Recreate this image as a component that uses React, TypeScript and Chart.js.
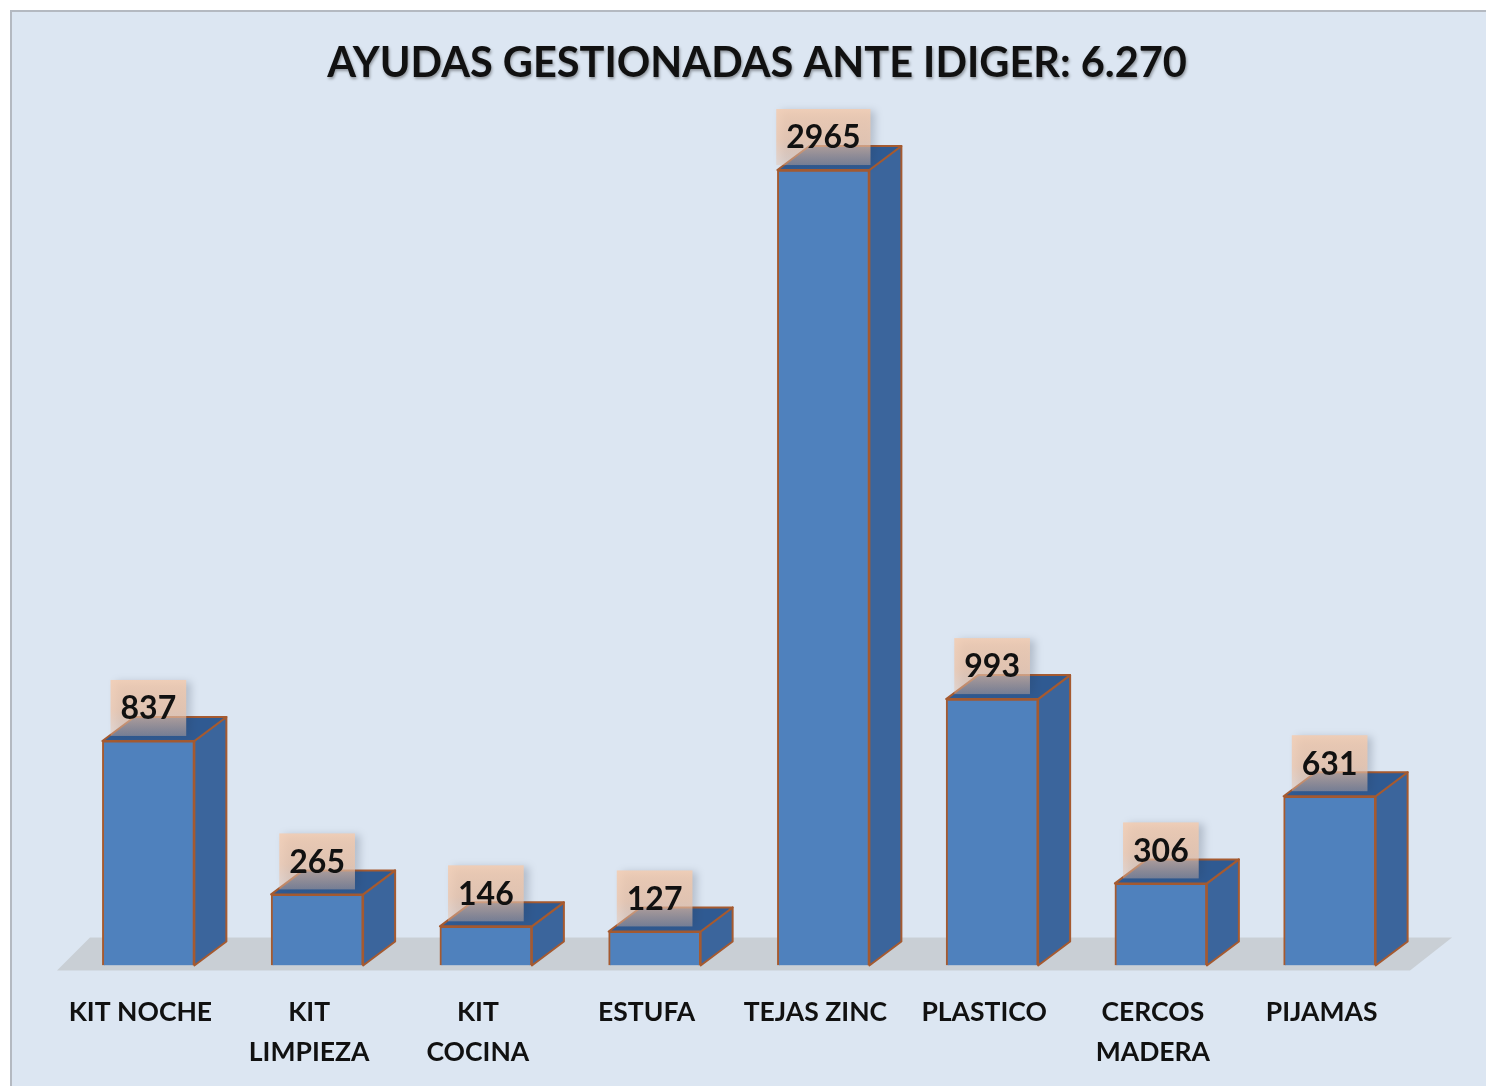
import React, { useEffect, useRef } from "react";
import { Chart, registerables } from "chart.js";

Chart.register(...registerables);

const titleText = "AYUDAS GESTIONADAS ANTE IDIGER: 6.270";
const categories: (string | string[])[] = [
  "KIT NOCHE",
  ["KIT", "LIMPIEZA"],
  ["KIT", "COCINA"],
  "ESTUFA",
  "TEJAS ZINC",
  "PLASTICO",
  ["CERCOS", "MADERA"],
  "PIJAMAS",
];
const values = [837, 265, 146, 127, 2965, 993, 306, 631];

const FONT = "Lato, 'Open Sans', sans-serif";
const DX = 32;
const DY = -24;

const threeD = {
  id: "threeD",
  beforeDraw(chart: any) {
    const { ctx, width, height } = chart;
    ctx.save();
    ctx.fillStyle = "#ffffff";
    ctx.fillRect(0, 0, width, height);
    ctx.fillStyle = "#dce6f2";
    ctx.fillRect(12, 12, width - 12, height - 12);
    ctx.strokeStyle = "#b4b9c1";
    ctx.lineWidth = 2;
    ctx.beginPath();
    ctx.moveTo(11, height);
    ctx.lineTo(11, 11);
    ctx.lineTo(width, 11);
    ctx.stroke();
    // title
    ctx.font = `bold 41.5px ${FONT}`;
    ctx.textAlign = "center";
    ctx.textBaseline = "middle";
    ctx.shadowColor = "rgba(0,0,0,0.35)";
    ctx.shadowBlur = 3;
    ctx.shadowOffsetX = 1;
    ctx.shadowOffsetY = 2;
    ctx.fillStyle = "#111111";
    ctx.fillText(titleText, 757, 64);
    ctx.restore();
  },
  beforeDatasetsDraw(chart: any) {
    const { ctx, chartArea } = chart;
    const b = chartArea.bottom;
    ctx.save();
    ctx.fillStyle = "#c9cfd5";
    ctx.beginPath();
    ctx.moveTo(chartArea.left - 7, b + 5);
    ctx.lineTo(chartArea.left + 26, b - 28);
    ctx.lineTo(chartArea.right + 38, b - 28);
    ctx.lineTo(chartArea.right - 4, b + 5);
    ctx.closePath();
    ctx.fill();
    ctx.restore();
  },
  afterDatasetsDraw(chart: any) {
    const { ctx } = chart;
    const meta = chart.getDatasetMeta(0);
    ctx.save();
    ctx.lineWidth = 2;
    ctx.strokeStyle = "#a55a30";
    ctx.lineJoin = "round";
    meta.data.forEach((bar: any, i: number) => {
      const { x, y, base, width } = bar.getProps(["x", "y", "base", "width"], true);
      const l = x - width / 2;
      const r = x + width / 2;
      // side face
      ctx.beginPath();
      ctx.moveTo(r, y);
      ctx.lineTo(r + DX, y + DY);
      ctx.lineTo(r + DX, base + DY);
      ctx.lineTo(r, base);
      ctx.closePath();
      ctx.fillStyle = "#3b659c";
      ctx.fill();
      ctx.stroke();
      // top face
      ctx.beginPath();
      ctx.moveTo(l, y);
      ctx.lineTo(l + DX, y + DY);
      ctx.lineTo(r + DX, y + DY);
      ctx.lineTo(r, y);
      ctx.closePath();
      ctx.fillStyle = "#2f5a92";
      ctx.fill();
      ctx.stroke();

      // data label
      const txt = String(values[i]);
      ctx.font = `bold 32px ${FONT}`;
      const tw = ctx.measureText(txt).width;
      const bw = tw + 20;
      const bh = 56;
      const by = y - 5 - bh;
      const bx = x - bw / 2;
      ctx.save();
      ctx.shadowColor = "rgba(40,50,70,0.28)";
      ctx.shadowBlur = 8;
      ctx.shadowOffsetX = 5;
      ctx.shadowOffsetY = 2;
      const g = ctx.createLinearGradient(0, by, 0, by + bh);
      g.addColorStop(0, "rgba(244,204,176,0.85)");
      g.addColorStop(0.55, "rgba(238,196,168,0.75)");
      g.addColorStop(1, "rgba(232,190,164,0.38)");
      ctx.fillStyle = g;
      ctx.fillRect(bx, by, bw, bh);
      ctx.restore();
      ctx.fillStyle = "#111111";
      ctx.textAlign = "center";
      ctx.textBaseline = "middle";
      ctx.fillText(txt, x, by + bh / 2 + 1);
    });
    ctx.restore();
  },
};

export default function App() {
  const ref = useRef<HTMLCanvasElement | null>(null);
  useEffect(() => {
    if (!ref.current) return;
    const chart = new Chart(ref.current, {
      type: "bar",
      data: {
        labels: categories,
        datasets: [
          {
            data: values,
            backgroundColor: "#4f81bd",
            borderColor: "#a55a30",
            borderWidth: 2,
            barThickness: 92,
          },
        ],
      },
      options: {
        animation: false,
        responsive: false,
        layout: { padding: { left: 64, right: 72, top: 107, bottom: -13 } },
        plugins: {
          legend: { display: false },
          tooltip: { enabled: false },
          title: { display: false },
        },
        scales: {
          x: {
            grid: { display: false, drawTicks: false },
            border: { display: false },
            ticks: {
              color: "#111111",
              font: { family: FONT, size: 26.5, weight: "bold", lineHeight: 1.5 },
              padding: 27,
              labelOffset: -8,
              maxRotation: 0,
              autoSkip: false,
            },
          },
          y: { display: false, min: 0, max: 3200 },
        },
      },
      plugins: [threeD],
    });
    return () => chart.destroy();
  }, []);
  return (
    <div style={{ position: "fixed", left: 0, top: 0, width: 1486, height: 1086 }}>
      <canvas ref={ref} width={1486} height={1086} />
    </div>
  );
}
